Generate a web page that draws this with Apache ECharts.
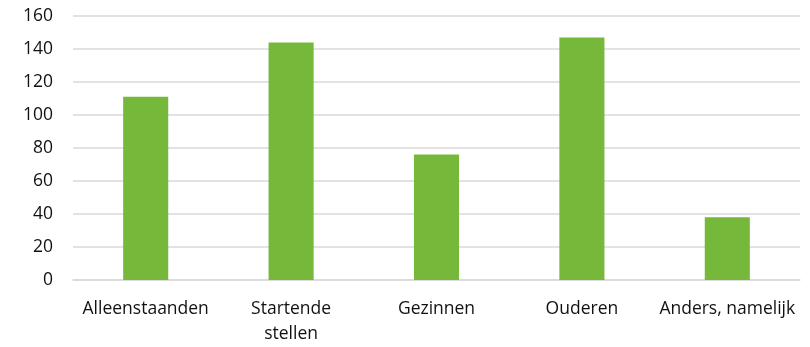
<!DOCTYPE html>
<html>
<head>
<meta charset="utf-8">
<script src="https://cdn.jsdelivr.net/npm/echarts@6/dist/echarts.min.js"></script>
<style>
  html, body { margin: 0; padding: 0; background: #fff; }
  #chart { width: 810px; height: 347px; }
</style>
</head>
<body>
<div id="chart"></div>
<script>
// Household types and their counts
const categories = ['Alleenstaanden', 'Startende\nstellen', 'Gezinnen', 'Ouderen', 'Anders, namelijk'];
const counts = [111, 144, 76, 147, 38];

const chart = echarts.init(document.getElementById('chart'));
const fontFamily = '"Open Sans", sans-serif';

chart.setOption({
  animation: false,
  grid: { left: 73, right: 10, top: 16, bottom: 65 },
  xAxis: {
    type: 'category',
    data: categories,
    axisTick: { show: false },
    axisLine: { lineStyle: { color: '#d9d9d9', width: 1.5 } },
    axisLabel: {
      color: '#111', fontSize: 17.5, fontFamily: fontFamily,
      margin: 17, lineHeight: 25, interval: 0
    }
  },
  yAxis: {
    type: 'value',
    min: 0, max: 160, interval: 20,
    axisLine: { show: false },
    axisTick: { show: false },
    splitLine: { lineStyle: { color: '#d9d9d9', width: 1.5 } },
    axisLabel: { color: '#111', fontSize: 17.5, fontFamily: fontFamily, margin: 20 }
  },
  series: [{
    type: 'bar',
    data: counts,
    barWidth: '31%',
    itemStyle: { color: '#76b83a' }
  }]
});
</script>
</body>
</html>
